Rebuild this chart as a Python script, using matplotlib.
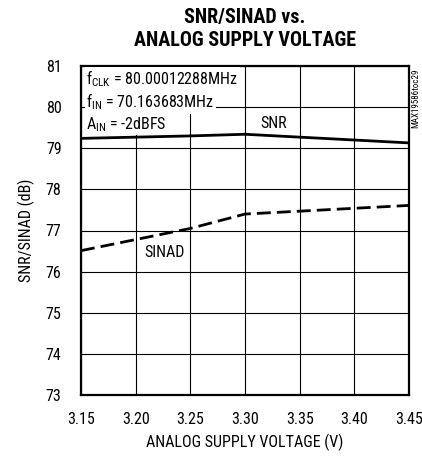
import matplotlib
matplotlib.use("Agg")
import matplotlib.pyplot as plt
from matplotlib import font_manager

# Condensed face if available
names = {f.name for f in font_manager.fontManager.ttflist}
fam = [n for n in ["Liberation Sans Narrow", "Roboto Condensed", "Liberation Sans"] if n in names] + ["DejaVu Sans"]
plt.rcParams["font.family"] = fam

voltage = [3.15, 3.20, 3.25, 3.30, 3.35, 3.40, 3.45]
snr = [79.24, 79.27, 79.30, 79.34, 79.27, 79.20, 79.13]
sinad = [76.51, 76.78, 77.05, 77.40, 77.47, 77.54, 77.61]

xticks = [3.15, 3.20, 3.25, 3.30, 3.35, 3.40, 3.45]
yticks = [73, 74, 75, 76, 77, 78, 79, 80, 81]

FS = 11.5

fig = plt.figure(figsize=(4.22, 4.58), dpi=100)
ax = fig.add_axes([81 / 422, 1 - 395 / 458, 328 / 422, 329 / 458])

ax.set_xlim(3.15, 3.45)
ax.set_ylim(73, 81)
ax.set_xticks(xticks)
ax.set_xticklabels([f"{v:.2f}" for v in xticks])
ax.set_yticks(yticks)
ax.grid(True, color="black", linewidth=0.8, zorder=1)
ax.tick_params(length=0, labelsize=FS, pad=12)
ax.tick_params(axis="y", pad=14)
for s in ax.spines.values():
    s.set_linewidth(1.6)

ax.plot(voltage, snr, color="black", linewidth=2.0, zorder=3)
ax.plot(voltage, sinad, color="black", linewidth=2.0, dashes=(5, 2.2), zorder=3)

ax.set_xlabel("ANALOG SUPPLY VOLTAGE (V)", fontsize=FS, labelpad=5)
ax.set_ylabel("SNR/SINAD (dB)", fontsize=FS, labelpad=8)

box = dict(facecolor="white", edgecolor="none", pad=1.0)
ax.text(3.155, 80.95, r"f$_{\mathregular{CLK}}$ = 80.00012288MHz", fontsize=FS,
        va="top", ha="left", bbox=box, zorder=4)
ax.text(3.155, 80.38, r"f$_{\mathregular{IN}}$ = 70.163683MHz", fontsize=FS,
        va="top", ha="left", bbox=box, zorder=4)
ax.text(3.155, 79.80, r"A$_{\mathregular{IN}}$ = -2dBFS", fontsize=FS,
        va="top", ha="left", bbox=box, zorder=4)

ax.text(3.3265, 79.61, "SNR", fontsize=FS, ha="center", va="center", zorder=4)
ax.text(3.226, 76.46, "SINAD", fontsize=FS, ha="center", va="center", zorder=4)

fig.text(416 / 422, 1 - 68 / 458, "MAX19586toc29", fontsize=6.5, rotation=90,
         ha="center", va="top")

fig.text(245 / 422, 1 - 8 / 458, "SNR/SINAD vs.\nANALOG SUPPLY VOLTAGE",
         fontsize=14.5, fontweight="bold", ha="center", va="top", linespacing=1.3)

fig.savefig("out.png", dpi=100)
